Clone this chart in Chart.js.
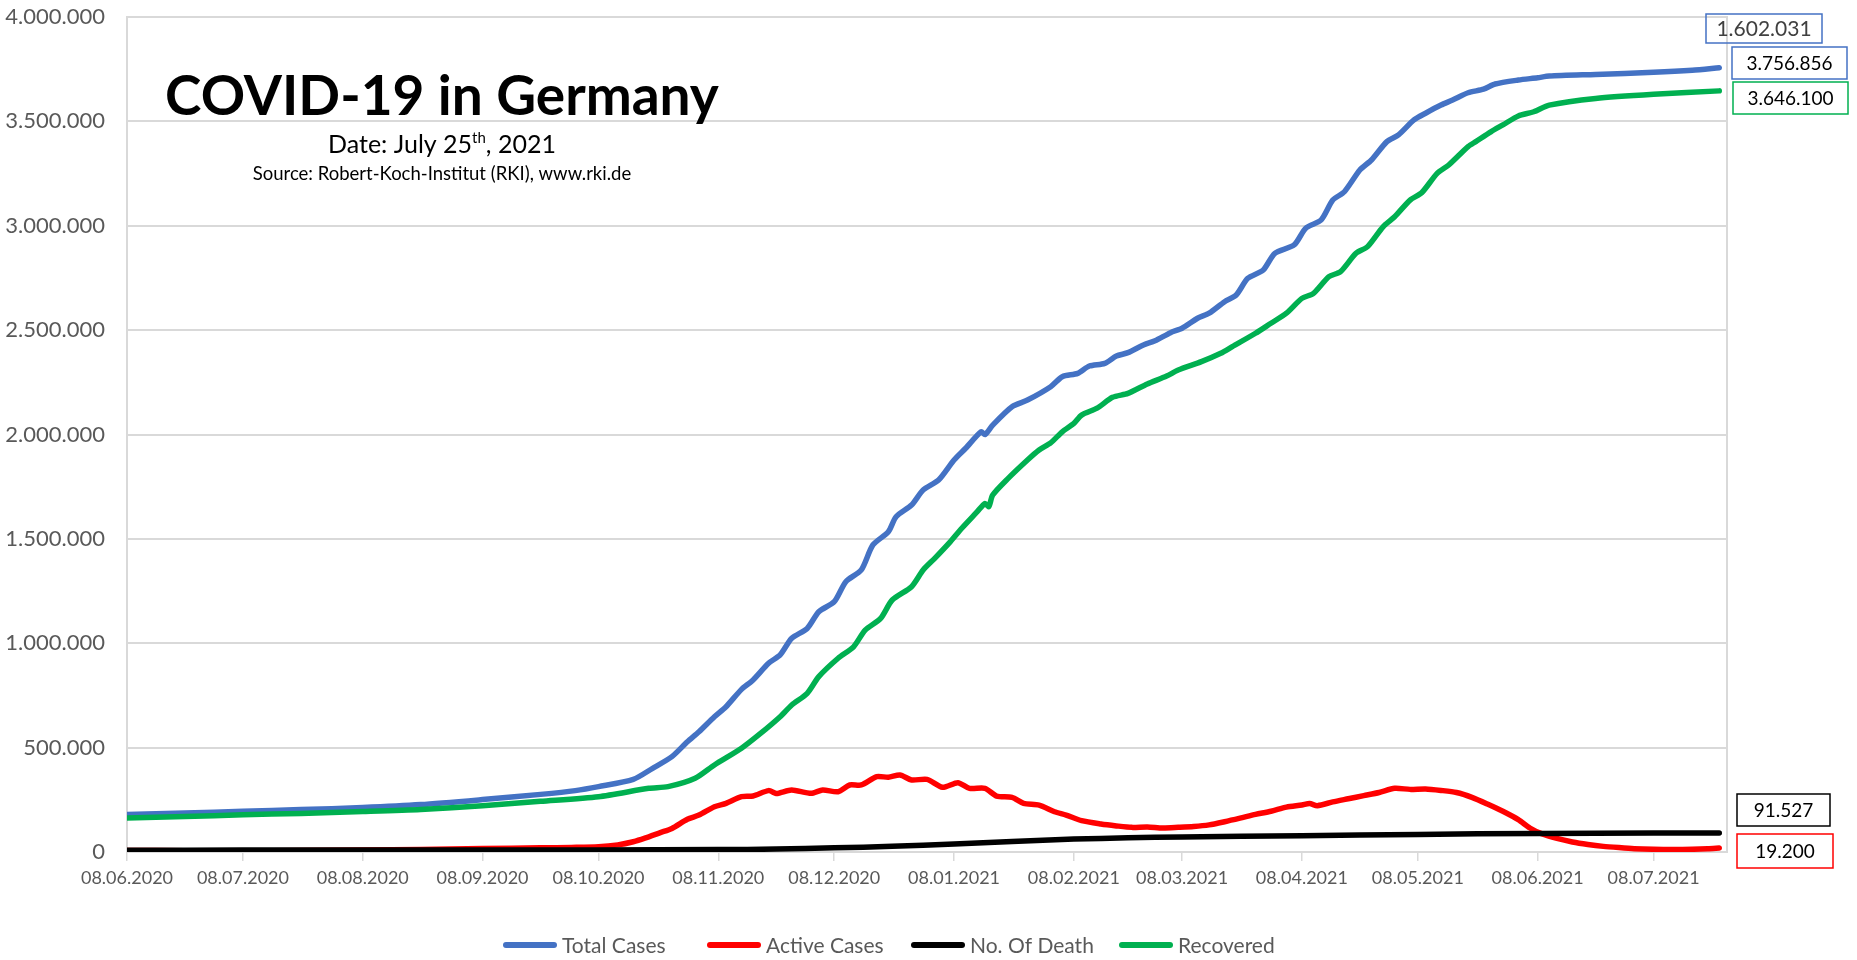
<!DOCTYPE html>
<html><head><meta charset="utf-8">
<script src="https://cdn.jsdelivr.net/npm/chart.js@4.4.0/dist/chart.umd.min.js"></script>
<style>html,body{margin:0;padding:0;background:#fff;overflow:hidden}</style>
</head><body>
<canvas id="c" width="1857" height="960"></canvas>
<script>
// ---- tick labels (x positions are days since 08.06.2020) ----
const tickDays = [0,30,61,92,122,153,183,214,245,273,304,334,365,395];
const tickLabels = ['08.06.2020','08.07.2020','08.08.2020','08.09.2020','08.10.2020','08.11.2020','08.12.2020',
  '08.01.2021','08.02.2021','08.03.2021','08.04.2021','08.05.2021','08.06.2021','08.07.2021'];
const seriesNames = ['Total Cases','Active Cases','No. Of Death','Recovered'];

// ---- Total Cases ----
const totalDays = [0,15,30,45,61,76,92,107,116,122,131,136,141,145,148,152,155,159,162,166,169,172,176,179,183,186,190,193,197,199,203,206,210,214,217,221,222,224,229,233,239,242,246,249,253,256,259,263,266,270,273,277,280,284,287,290,294,297,302,305,309,312,315,319,322,326,329,333,336,340,343,347,351,354,360,365,368,380,395,405,412];
const totalCases = [180000,187000,195000,203000,213000,227000,251000,276000,294000,313000,348000,401000,457000,528000,576000,648000,696000,779000,824000,904000,944000,1024000,1071000,1151000,1199000,1295000,1351000,1471000,1534000,1606000,1662000,1734000,1782000,1878000,1934000,2013000,2000000,2045000,2133000,2165000,2229000,2277000,2293000,2328000,2341000,2376000,2392000,2429000,2449000,2488000,2509000,2557000,2581000,2636000,2668000,2748000,2788000,2868000,2908000,2988000,3028000,3123000,3163000,3267000,3315000,3403000,3435000,3507000,3539000,3578000,3602000,3637000,3654000,3679000,3698000,3709000,3717000,3725000,3735000,3745000,3756856];

// ---- Active Cases ----
const activeDays = [0,15,30,45,61,76,92,107,115,122,127,131,134,138,141,145,148,152,155,159,162,166,168,169,172,177,180,184,187,190,194,197,200,203,207,211,215,218,222,225,229,232,236,240,243,247,252,256,260,264,268,272,276,280,284,288,292,296,300,304,306,308,312,316,320,324,328,332,336,340,344,348,352,356,360,363,366,370,374,378,382,386,390,395,400,405,409,412];
const activeCases = [7500,6000,5000,7000,9000,12000,17000,20000,22000,25000,34000,49000,66000,93000,113000,157000,177000,217000,233000,265000,268000,294000,280000,284000,297000,281000,297000,289000,321000,321000,361000,358000,369000,345000,348000,310000,332000,305000,305000,268000,262000,233000,225000,193000,177000,150000,134000,125000,118000,120000,115000,118000,122000,130000,145000,162000,180000,195000,215000,225000,232000,222000,240000,255000,270000,285000,305000,300000,302000,295000,285000,262000,230000,195000,155000,115000,88000,65000,48000,36000,27000,21000,16000,13000,12000,13000,15500,19200];

// ---- No. Of Death ----
const deathDays = [0,30,61,92,122,153,168,183,198,214,229,245,259,273,304,334,365,395,412];
const deaths = [8700,9000,9200,9400,9600,11500,13800,19900,27000,38800,50000,61700,68000,71900,77800,84400,89200,91000,91527];

// ---- Recovered ----
const recDays = [0,15,30,45,61,76,92,107,122,135,140,147,152,159,164,169,172,176,179,184,188,191,195,198,203,206,209,213,216,220,222,223,224,228,233,236,239,242,245,247,251,255,259,264,269,272,278,283,286,292,296,300,304,307,311,314,318,321,325,328,332,335,339,342,347,349,353,356,360,364,368,380,395,412];
const recovered = [163000,170000,178000,185000,194000,204000,222000,243000,265000,305000,313000,353000,417000,497000,569000,648000,704000,760000,840000,928000,983000,1063000,1119000,1207000,1271000,1351000,1407000,1486000,1551000,1630000,1670000,1655000,1710000,1790000,1878000,1926000,1960000,2013000,2053000,2093000,2126000,2178000,2197000,2242000,2280000,2309000,2349000,2389000,2421000,2485000,2533000,2581000,2652000,2676000,2756000,2780000,2868000,2900000,2995000,3043000,3123000,3158000,3251000,3291000,3379000,3403000,3451000,3483000,3526000,3546000,3578000,3610000,3630000,3646100];

// ---- value boxes on the right ----
const boxTexts = ['1.602.031','3.756.856','3.646.100','91.527','19.200'];

const colors = {total:'#4472C4', active:'#FF0000', death:'#000000', rec:'#00B050'};
const pairs = (xs, ys) => xs.map((x, i) => ({x, y: ys[i]}));
const fmt = v => String(Math.round(v)).replace(/\B(?=(\d{3})+(?!\d))/g, '.');

Chart.defaults.font.family = 'Lato';
Chart.defaults.color = '#595959';

const overlay = {
  id: 'overlay',
  afterDraw(chart) {
    const ctx = chart.ctx;
    ctx.save();
    // title block
    ctx.fillStyle = '#000';
    ctx.textAlign = 'center';
    ctx.textBaseline = 'alphabetic';
    ctx.font = 'bold 55px Lato';
    ctx.fillText('COVID-19 in Germany', 442, 115);
    const a = 'Date: July 25', s = 'th', b = ', 2021';
    ctx.font = '25px Lato'; const wa = ctx.measureText(a).width, wb = ctx.measureText(b).width;
    ctx.font = '15px Lato'; const ws = ctx.measureText(s).width;
    let x = 442 - (wa + ws + wb) / 2;
    ctx.textAlign = 'left';
    ctx.font = '25px Lato'; ctx.fillText(a, x, 153); x += wa;
    ctx.font = '15px Lato'; ctx.fillText(s, x, 143); x += ws;
    ctx.font = '25px Lato'; ctx.fillText(b, x, 153);
    ctx.textAlign = 'center';
    ctx.font = '18.5px Lato';
    ctx.fillText('Source: Robert-Koch-Institut (RKI), www.rki.de', 442, 180);
    // value boxes
    const boxes = [
      {x:1706, y:14, w:116, h:29, c:colors.total, t:'#404040', f:'21px Lato'},
      {x:1732, y:47, w:115, h:32, c:colors.total, t:'#000', f:'19px Lato'},
      {x:1733, y:82, w:115, h:32, c:colors.rec, t:'#000', f:'19px Lato'},
      {x:1737, y:794, w:93, h:32, c:colors.death, t:'#000', f:'19px Lato'},
      {x:1737, y:834, w:96, h:34, c:colors.active, t:'#000', f:'19px Lato'}
    ];
    ctx.textBaseline = 'middle';
    boxes.forEach((bx, i) => {
      ctx.lineWidth = 1.5;
      ctx.strokeStyle = bx.c;
      ctx.strokeRect(bx.x, bx.y, bx.w, bx.h);
      ctx.fillStyle = bx.t;
      ctx.font = bx.f;
      ctx.fillText(boxTexts[i], bx.x + bx.w / 2, bx.y + bx.h / 2 + 1);
    });
    // legend
    const legendX = [503, 707, 911, 1119];
    const ly = 945;
    ctx.textAlign = 'left';
    ctx.font = '21px Lato';
    chart.data.datasets.forEach((d, i) => {
      ctx.strokeStyle = d.borderColor;
      ctx.lineWidth = 6;
      ctx.lineCap = 'round';
      ctx.beginPath();
      ctx.moveTo(legendX[i] + 3, ly);
      ctx.lineTo(legendX[i] + 51, ly);
      ctx.stroke();
      ctx.fillStyle = '#595959';
      ctx.fillText(d.label, legendX[i] + 59, ly + 1);
    });
    ctx.restore();
  }
};

const ds = (label, xs, ys, color, order) => ({
  label, data: pairs(xs, ys), borderColor: color, backgroundColor: color,
  borderWidth: 5.5, pointRadius: 0, tension: 0.25, borderCapStyle: 'round', borderJoinStyle: 'round', order
});

new Chart(document.getElementById('c'), {
  type: 'line',
  data: {
    datasets: [
      ds(seriesNames[0], totalDays, totalCases, colors.total, 4),
      ds(seriesNames[1], activeDays, activeCases, colors.active, 3),
      ds(seriesNames[2], deathDays, deaths, colors.death, 2),
      ds(seriesNames[3], recDays, recovered, colors.rec, 1)
    ]
  },
  options: {
    responsive: false,
    animation: false,
    devicePixelRatio: 1,
    layout: { padding: { left: 0, right: 81, top: 17, bottom: 58 } },
    plugins: {
      tooltip: { enabled: false },
      legend: { display: false }
    },
    scales: {
      x: {
        type: 'linear', min: 0, max: 414,
        afterBuildTicks(s) { s.ticks = tickDays.map(v => ({ value: v })); },
        afterFit(s) { s.height = 50; s.paddingLeft = 0; s.paddingRight = 0; },
        ticks: { autoSkip: false, maxRotation: 0, padding: 6, font: { size: 18 }, color: '#595959',
          callback: (v, i) => tickLabels[i] },
        grid: { drawOnChartArea: false, drawTicks: true, tickLength: 9, color: '#D9D9D9', lineWidth: 1.5 },
        border: { display: true, color: '#D9D9D9', width: 2 }
      },
      y: {
        min: 0, max: 4000000,
        afterFit(s) { s.width = 127; s.paddingTop = 0; s.paddingBottom = 0; },
        ticks: { stepSize: 500000, padding: 22, font: { size: 22 }, color: '#595959', callback: v => fmt(v) },
        grid: { color: '#D9D9D9', lineWidth: 2, drawTicks: false },
        border: { display: true, color: '#D9D9D9', width: 2 }
      },
      y2: {
        position: 'right', min: 0, max: 1,
        afterFit(s) { s.width = 49; s.paddingTop = 0; s.paddingBottom = 0; },
        ticks: { display: false },
        grid: { display: false, drawOnChartArea: false, drawTicks: false },
        border: { display: true, color: '#D9D9D9', width: 2 }
      }
    }
  },
  plugins: [overlay]
});
</script>
</body></html>
